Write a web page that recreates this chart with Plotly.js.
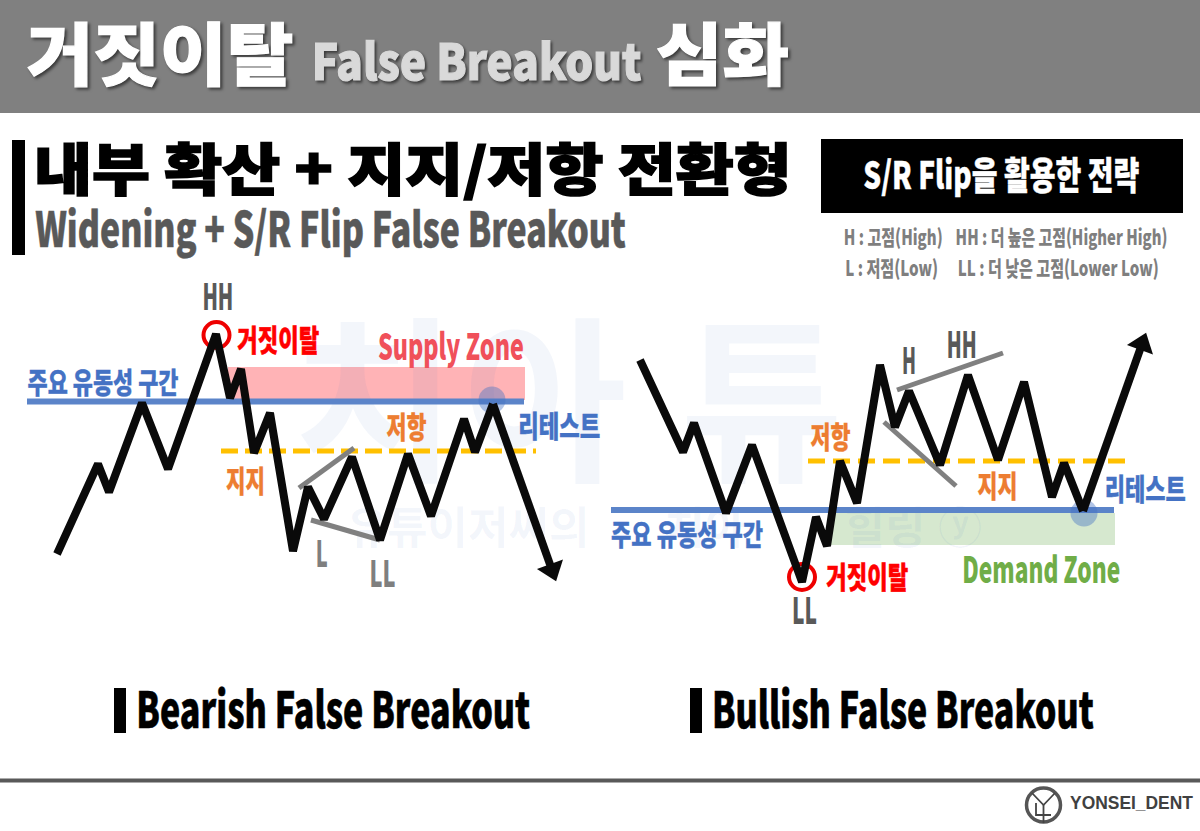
<!DOCTYPE html>
<html><head><meta charset="utf-8">
<script src="https://cdn.plot.ly/plotly-3.0.1.min.js"></script>
<style>html,body{margin:0;padding:0;background:#fff}#c{width:1200px;height:831px}</style></head>
<body><div id="c"></div>
<script>
// Price paths (horizontal position, price level on the page scale)
const bearX=[57,98,109,142,168,216,230,241,254,270,293,308,324,352,380,408,431,464,475,493];
const bearY=[554,464,492,403,469,334,398,369,453,413,551,487,519,457,540,454,516,419,452,404];
const bearArrowX=[493,552];
const bearArrowY=[404,570];
const bullX=[640,683,694,726,752,802,816,827,840,857,880,895,909,940,968,998,1024,1052,1064,1083];
const bullY=[360,452,423,513,445,582,517,546,461,503,365,427,391,465,375,460,382,497,463,511];
const bullArrowX=[1083,1142];
const bullArrowY=[511,344];
// Levels
const liqBearX=[27,524], liqBearY=[401.5,401.5];
const liqBullX=[611,1114], liqBullY=[510,510];
const resBearX=[221,536], resBearY=[451,451];
const resBullX=[808,1126], resBullY=[461,461];
// Zones
const supplyX=[228,525], supplyY=[367,400];
const demandX=[830,1115], demandY=[513,545];
// Trend lines
const trendSegments=[[[299,354],[488,448]],[[311,380],[520,540]],[[897,1003],[390,353]],[[884,956],[422,486]]];
// Highlights
const falseX=[216.5,802], falseY=[335,577];
const retestX=[492,1084], retestY=[400,513];
// Texts: text, left, right, vertical centre, size, colour, weight of outline, shadow
const texts=[
["거짓이탈",26,293,57,68,"#ffffff",1.2,1],
["False Breakout",311,641,62,50,"#d9d9d9",1.2,1],
["심화",656,789,57,68,"#ffffff",1.2,1],
["내부 확산 + 지지/저항 전환형",34,792,171,56,"#000000",1.6,0],
["Widening + S/R Flip False Breakout",35,626,230,48,"#595959",0.5,0],
["S/R Flip을 활용한 전략",863,1139,176,38,"#ffffff",0.4,0],
["H : 고점(High)",843,942,238,21,"#7f7f7f",0,0],
["HH : 더 높은 고점(Higher High)",955,1167,238,21,"#7f7f7f",0,0],
["L : 저점(Low)",845,938,269,21,"#7f7f7f",0,0],
["LL : 더 낮은 고점(Lower Low)",957,1158,269,21,"#7f7f7f",0,0],
["HH",202,233,297,36,"#595959",0,0],
["거짓이탈",237,319,341,30,"#ff0000",0.5,0],
["Supply Zone",378,524,347,36,"#f0505a",0,0],
["주요 유동성 구간",27,178,384,29,"#4472c4",0.3,0],
["저항",386,426,428,30,"#ed7d31",0.3,0],
["리테스트",518,600,427,30,"#4472c4",0.3,0],
["지지",226,265,482,30,"#ed7d31",0.3,0],
["L",316,328,554,36,"#7f7f7f",0,0],
["LL",369,395,574,36,"#7f7f7f",0,0],
["HH",947,977,345,36,"#595959",0,0],
["H",902,916,361,36,"#595959",0,0],
["저항",810,850,438,30,"#ed7d31",0.3,0],
["지지",977,1017,487,30,"#ed7d31",0.3,0],
["리테스트",1104,1185,490,30,"#4472c4",0.3,0],
["주요 유동성 구간",611,763,536,29,"#4472c4",0.3,0],
["거짓이탈",826,908,578,30,"#ff0000",0.5,0],
["Demand Zone",962,1120,570,36,"#70ad47",0,0],
["LL",792,817,611,36,"#595959",0,0],
["Bearish False Breakout",136,530,710,50,"#000000",0.6,0],
["Bullish False Breakout",712,1094,710,50,"#000000",0.6,0],
["YONSEI_DENT",1070,1193,805,18,"#404040",0,0],
];
const bigMarkText=["치","아","튜"], bigMarkX=[375,545,762], bigMarkY=[423,423,423];
const subMarkText=["유튜이저씨의","치아","힐링","ⓨ"], subMarkX=[468,705,885,960], subMarkY=[533,533,533,533];
const logoRing=[[1043.5],[805]];
const logoLinesX=[1032,1043.5,1055,null,1043.5,1043.5,null,1036,1036,1051];
const logoLinesY=[793,805,793,null,805,823,null,803,815,815];

const FAM='"Noto Sans CJK KR","Noto Sans",sans-serif';
const MARK='rgba(68,114,196,0.065)';
function line(x,y,color,width,extra){return Object.assign({type:'scatter',mode:'lines',x,y,line:{color,width},hoverinfo:'skip',showlegend:false},extra||{});}
function arrow(x,y,angle){return {type:'scatter',mode:'lines+markers',x,y,line:{color:'#0a0a0a',width:8},
 marker:{symbol:'triangle-up',size:[0,24],opacity:1,color:'#0a0a0a',angle:[0,angle],line:{width:0}},hoverinfo:'skip',showlegend:false};}
function mark(text,x,y,size){return {type:'scatter',mode:'text',x,y,text,textposition:'middle center',textfont:{family:FAM,size,color:MARK,weight:700},hoverinfo:'skip',showlegend:false};}

const traces=[
 mark(bigMarkText,bigMarkX,bigMarkY,178),
 mark(subMarkText,subMarkX,subMarkY,44),
 line(resBearX,resBearY,'#ffc000',5,{line:{color:'#ffc000',width:5,dash:'17px,7px'}}),
 line(resBullX,resBullY,'#ffc000',5,{line:{color:'#ffc000',width:5,dash:'17px,8px'}}),
 line(liqBearX,liqBearY,'#5b84c9',6),
 line(liqBullX,liqBullY,'#5b84c9',6),
 {type:'scatter',mode:'markers',x:retestX,y:retestY,marker:{size:27,color:'rgba(68,114,196,0.42)',line:{width:0}},hoverinfo:'skip',showlegend:false},
 {type:'scatter',mode:'markers',x:falseX,y:falseY,marker:{size:26,color:'rgba(0,0,0,0)',line:{color:'#ee0000',width:4}},hoverinfo:'skip',showlegend:false},
 ...trendSegments.map(s=>line(s[0],s[1],'#808080',5)),
 line(bearX,bearY,'#0a0a0a',8),
 line(bullX,bullY,'#0a0a0a',8),
 arrow(bearArrowX,bearArrowY,160),
 arrow(bullArrowX,bullArrowY,20),
 {type:'scatter',mode:'markers',x:logoRing[0],y:logoRing[1],marker:{size:34,color:'rgba(0,0,0,0)',line:{color:'#555',width:3.5}},hoverinfo:'skip',showlegend:false},
 line(logoLinesX,logoLinesY,'#444',1.8),
];
function rect(x0,x1,y0,y1,color){return {type:'rect',xref:'x',yref:'y',x0,x1,y0,y1,fillcolor:color,line:{width:0},layer:'below'};}
const shapes=[
 rect(0,1200,0,113,'#808080'),
 rect(12,25,140,255,'#000000'),
 rect(821,1183,139,213,'#000000'),
 rect(supplyX[0],supplyX[1],supplyY[0],supplyY[1],'#ffb3b6'),
 rect(demandX[0],demandX[1],demandY[0],demandY[1],'#d6e8cf'),
 rect(114,126,688,733,'#000000'),
 rect(690,702,688,733,'#000000'),
 rect(0,1200,778.5,782.5,'#595959'),
];
const anns=texts.map(t=>{
 const f={family:t[0]==="YONSEI_DENT"?'"Liberation Sans",sans-serif':FAM,size:t[4],color:t[5],weight:t[0]==="YONSEI_DENT"?700:900};
 return {text:t[0],x:(t[1]+t[2])/2,y:t[3]-0.09*t[4],xref:'x',yref:'y',showarrow:false,xanchor:'center',yanchor:'middle',font:f,borderpad:0,borderwidth:0};
});
const layout={width:1200,height:831,margin:{l:0,r:0,t:0,b:0},paper_bgcolor:'#fff',plot_bgcolor:'#fff',showlegend:false,
 xaxis:{range:[0,1200],visible:false,fixedrange:true},yaxis:{range:[831,0],visible:false,fixedrange:true},shapes,annotations:anns};
Plotly.newPlot('c',traces,layout,{displayModeBar:false,staticPlot:true}).then(()=>{
 document.querySelectorAll('.annotation-text').forEach((el,i)=>{
  const t=texts[i], w=el.getBBox().width;
  el.style.transformBox='fill-box';el.style.transformOrigin='center';
  el.style.transform='scaleX('+((t[2]-t[1])/w)+')';
  if(t[6]>0){el.style.stroke=t[5];el.style.strokeWidth=t[6]+'px';el.style.strokeLinejoin='miter';}
  if(t[7]){el.style.filter='drop-shadow(2px 2px 1.5px #3a3a3a)';}
 });
});
</script></body></html>
